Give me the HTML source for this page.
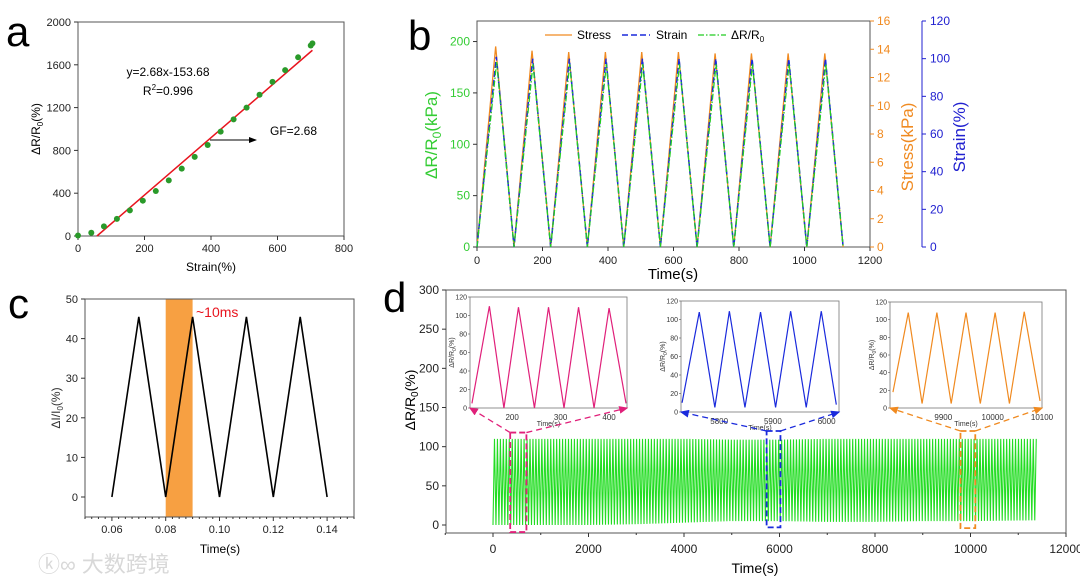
<!DOCTYPE html>
<html><head><meta charset="utf-8"><style>
html,body{margin:0;padding:0;background:#fff;}
svg{display:block;font-family:"Liberation Sans","Noto Sans CJK SC",sans-serif;}
</style></head><body>
<svg id="fig" width="1080" height="580" viewBox="0 0 1080 580" xmlns="http://www.w3.org/2000/svg">
<defs>
<marker id="arrK" markerWidth="8" markerHeight="6" refX="7" refY="3" orient="auto"><path d="M0,0 L8,3 L0,6 z" fill="#000"/></marker>
<marker id="arrM" markerWidth="7" markerHeight="6" refX="6" refY="3" orient="auto-start-reverse"><path d="M0,0 L7,3 L0,6 z" fill="#e0207a"/></marker>
<marker id="arrB" markerWidth="7" markerHeight="6" refX="6" refY="3" orient="auto-start-reverse"><path d="M0,0 L7,3 L0,6 z" fill="#1a2adc"/></marker>
<marker id="arrO" markerWidth="7" markerHeight="6" refX="6" refY="3" orient="auto-start-reverse"><path d="M0,0 L7,3 L0,6 z" fill="#f08a20"/></marker>
</defs>
<text x="6" y="46" font-size="42">a</text>
<text x="408" y="50" font-size="42">b</text>
<text x="8" y="318" font-size="42">c</text>
<text x="383" y="312" font-size="42">d</text>
<text x="38" y="572" font-size="22" fill="#d8d8d8">ⓚ∞ 大数跨境</text>
</svg>
<script>
// ---------- data ----------
const aStrain = [0,40,78,117,156,195,234,273,312,351,390,429,468,507,546,585,623,662,700,705];
const aResp   = [5,30,90,160,240,330,420,520,630,740,850,975,1090,1200,1320,1440,1550,1670,1780,1800];
const aFitX = [57,705];
const aFitY = [0,1736];
const aXTicks = [0,200,400,600,800];
const aYTicks = [0,400,800,1200,1600,2000];

const bStressT = [0,57,113,168,225,280,337,392,448,503,560,615,672,727,784,838,895,950,1007,1062,1118];
const bStressV = [0,14.2,0,13.9,0,13.8,0,13.8,0,13.8,0,13.8,0,13.7,0,13.7,0,13.7,0,13.7,0];
const bStrainT = [0,59,113,170,225,282,337,394,448,505,560,617,672,729,784,840,895,952,1007,1064,1118];
const bStrainV = [0,101,0,100,0,100,0,100,0,100,0,100,0,100,0,100,0,100,0,100,0];
const bResT = [0,60,113,171,225,283,337,395,448,506,560,618,672,730,784,841,895,953,1007,1065,1118];
const bResV = [0,180,0,178,0,178,0,178,0,178,0,178,0,178,0,178,0,178,0,178,0];
const bXTicks = [0,200,400,600,800,1000,1200];
const bYTicks = [0,50,100,150,200];
const bStressTicks = [0,2,4,6,8,10,12,14,16];
const bStrainTicks = [0,20,40,60,80,100,120];

const cT = [0.06,0.07,0.08,0.09,0.10,0.11,0.12,0.13,0.14];
const cV = [0,45.5,0,45.5,0,45.5,0,45.5,0];
const cXTicks = [0.06,0.08,0.10,0.12,0.14];
const cYTicks = [0,10,20,30,40,50];

const dPeriod = 62;
const dEnvT   = [0,1000,2000,3000,4000,5000,6000,7000,8000,9000,10000,11400];
const dEnvMin = [0,0,0,1,3,5,5,4,4,5,5,6];
const dEnvMax = [110,110,110,110,110,109,109,110,110,110,110,110];
const dXTicks = [0,2000,4000,6000,8000,10000,12000];
const dYTicks = [0,50,100,150,200,250,300];

const i1T = [117,153,183,213,246,275,307,337,369,400,435];
const i1V = [5,110,0,109,0,109,0,109,0,108,5];
const i2T = [5731,5763,5792,5819,5848,5877,5905,5933,5962,5990,6018];
const i2V = [10,108,5,109,5,108,5,109,5,109,8];
const i3T = [9798,9829,9857,9887,9916,9946,9975,10005,10034,10064,10096];
const i3V = [18,108,5,108,5,108,5,108,5,109,8];
const i1Ticks = [200,300,400];
const i2Ticks = [5800,5900,6000];
const i3Ticks = [9900,10000,10100];
const iYTicks = [0,20,40,60,80,100,120];

// ---------- helpers ----------
const NS = 'http://www.w3.org/2000/svg';
const svg = document.getElementById('fig');
function mk(tag, a, p){ const e=document.createElementNS(NS,tag); for(const k in a) e.setAttribute(k,a[k]); (p||svg).appendChild(e); return e; }
function tx(x,y,s,a,p){ const e=mk('text',Object.assign({x:x,y:y},a||{}),p); e.textContent=s; return e; }
function lin(d0,d1,r0,r1){ return v=>r0+(v-d0)*(r1-r0)/(d1-d0); }
function poly(xs,ys,X,Y){ return xs.map((v,i)=>X(v).toFixed(2)+','+Y(ys[i]).toFixed(2)).join(' '); }
function interp(ts,vs,t){ for(let i=1;i<ts.length;i++){ if(t<=ts[i]){ const f=(t-ts[i-1])/(ts[i]-ts[i-1]); return vs[i-1]+f*(vs[i]-vs[i-1]); } } return vs[vs.length-1]; }

// ---------- panel a ----------
const aX = lin(0,800,78,344), aY = lin(0,2000,236,22);
const ga = mk('g',{});


const fa = mk('rect',{x:78,y:22,width:266,height:214,fill:'none',stroke:'#555','stroke-width':1},ga);


aXTicks.forEach(v=>{
  const t=mk('line',{x1:aX(v),x2:aX(v),y1:236,y2:240,stroke:'#333'},ga);
  
  
  const l=tx(aX(v),252,String(v),{'font-size':11,'text-anchor':'middle',fill:'#222'},ga);
  
  
});
aYTicks.forEach(v=>{
  const t=mk('line',{x1:74,x2:78,y1:aY(v),y2:aY(v),stroke:'#333'},ga);
  
  
  const l=tx(71,aY(v)+4,String(v),{'font-size':11,'text-anchor':'end',fill:'#222'},ga);
  
  
});
const fit = mk('line',{x1:aX(aFitX[0]),y1:aY(aFitY[0]),x2:aX(aFitX[1]),y2:aY(aFitY[1]),stroke:'#e8141e','stroke-width':1.5},ga);


aStrain.forEach((v,i)=>{
  const c=mk('circle',{cx:aX(v),cy:aY(aResp[i]),r:3,fill:'#2a9a2a'},ga);
  
  
});
const at1=tx(168,76,'y=2.68x-153.68',{'font-size':12,'text-anchor':'middle'},ga);


const at2=tx(168,95,'',{'font-size':12,'text-anchor':'middle'},ga);
at2.innerHTML='R<tspan font-size="8" dy="-5">2</tspan><tspan dy="5">=0.996</tspan>';


const arr=mk('line',{x1:210,y1:140,x2:256,y2:140,stroke:'#000','stroke-width':1,'marker-end':'url(#arrK)'},ga);


const gf=tx(270,135,'GF=2.68',{'font-size':12},ga);


const axt=tx(211,271,'Strain(%)',{'font-size':12,'text-anchor':'middle'},ga);


const ayt=tx(0,0,'',{'font-size':12,'text-anchor':'middle',transform:'translate(40,129) rotate(-90)'},ga);
ayt.innerHTML='ΔR/R<tspan font-size="8" dy="3">0</tspan><tspan dy="-3">(%)</tspan>';



// ---------- panel b ----------
const bX = lin(0,1200,477,870), bY = lin(0,220,247,21), bS = lin(0,16,247,21), bT = lin(0,120,247,21);
const gb = mk('g',{});


const fb=mk('rect',{x:477,y:21,width:393,height:226,fill:'none',stroke:'#555','stroke-width':1},gb);


bXTicks.forEach(v=>{
  const t=mk('line',{x1:bX(v),x2:bX(v),y1:247,y2:251,stroke:'#333'},gb);
  
  
  const l=tx(bX(v),264,String(v),{'font-size':11,'text-anchor':'middle',fill:'#222'},gb);
  
  
});
bYTicks.forEach(v=>{
  const t=mk('line',{x1:473,x2:477,y1:bY(v),y2:bY(v),stroke:'#333'},gb);
  
  
  const l=tx(470,bY(v)+4,String(v),{'font-size':12,'text-anchor':'end',fill:'#33cc33'},gb);
  
  
});
bStressTicks.forEach(v=>{
  const t=mk('line',{x1:870,x2:874,y1:bS(v),y2:bS(v),stroke:'#f08a20'},gb);
  
  
  const l=tx(877,bS(v)+4,String(v),{'font-size':12,fill:'#f08a20'},gb);
  
  
});
const sax=mk('line',{x1:922,x2:922,y1:21,y2:247,stroke:'#2020d0'},gb);


bStrainTicks.forEach(v=>{
  const t=mk('line',{x1:922,x2:926,y1:bT(v),y2:bT(v),stroke:'#2020d0'},gb);
  
  
  const l=tx(930,bT(v)+4,String(v),{'font-size':12,fill:'#2020d0'},gb);
  
  
});
const ls=mk('polyline',{points:poly(bStressT,bStressV,bX,bS),fill:'none',stroke:'#f08a20','stroke-width':1.3},gb);


const lt=mk('polyline',{points:poly(bStrainT,bStrainV,bX,bT),fill:'none',stroke:'#1a2adc','stroke-width':1.5,'stroke-dasharray':'6,3'},gb);


const lr=mk('polyline',{points:poly(bResT,bResV,bX,bY),fill:'none',stroke:'#22cc22','stroke-width':1.3,'stroke-dasharray':'6,2,1.5,2'},gb);


const lg1=mk('line',{x1:545,x2:572,y1:35,y2:35,stroke:'#f08a20','stroke-width':1.3},gb);


const lg1t=tx(577,39,'Stress',{'font-size':12},gb);


const lg2=mk('line',{x1:622,x2:650,y1:35,y2:35,stroke:'#1a2adc','stroke-width':1.5,'stroke-dasharray':'6,3'},gb);


const lg2t=tx(656,39,'Strain',{'font-size':12},gb);


const lg3=mk('line',{x1:698,x2:726,y1:35,y2:35,stroke:'#22cc22','stroke-width':1.3,'stroke-dasharray':'6,2,1.5,2'},gb);


const lg3t=tx(731,39,'',{'font-size':12},gb);
lg3t.innerHTML='ΔR/R<tspan font-size="8" dy="3">0</tspan>';


const bxt=tx(673,279,'Time(s)',{'font-size':15,'text-anchor':'middle'},gb);


const byt=tx(0,0,'',{'font-size':17,'text-anchor':'middle',fill:'#33cc33',transform:'translate(437,135) rotate(-90)'},gb);
byt.innerHTML='ΔR/R<tspan font-size="12" dy="4">0</tspan><tspan dy="-4">(kPa)</tspan>';


const bst=tx(0,0,'Stress(kPa)',{'font-size':17,'text-anchor':'middle',fill:'#f08a20',transform:'translate(913,147) rotate(-90)'},gb);


const btt=tx(0,0,'Strain(%)',{'font-size':17,'text-anchor':'middle',fill:'#2020d0',transform:'translate(965,137) rotate(-90)'},gb);



// ---------- panel c ----------
const cX = lin(0.05,0.15,85,354), cY = lin(0,50,497,299);
const gc = mk('g',{});


const band=mk('rect',{x:cX(0.08),y:299,width:cX(0.09)-cX(0.08),height:218,fill:'#f7a042'},gc);


const fc=mk('rect',{x:85,y:299,width:269,height:218,fill:'none',stroke:'#555','stroke-width':1},gc);


for(let k=0;k<=40;k++){
  const v=0.05+k*0.0025;
  const t=mk('line',{x1:cX(v),x2:cX(v),y1:517,y2:k%8==4?521:519,stroke:'#333'},gc);
  
  
}
cXTicks.forEach(v=>{
  const l=tx(cX(v),533,v.toFixed(2),{'font-size':11,'text-anchor':'middle',fill:'#222'},gc);
  
  
});
cYTicks.forEach(v=>{
  const t=mk('line',{x1:81,x2:85,y1:cY(v),y2:cY(v),stroke:'#333'},gc);
  
  
  const l=tx(78,cY(v)+4,String(v),{'font-size':11,'text-anchor':'end',fill:'#222'},gc);
  
  
});
const cl=mk('polyline',{points:poly(cT,cV,cX,cY),fill:'none',stroke:'#000','stroke-width':1.6},gc);


const cann=tx(196,317,'~10ms',{'font-size':14,fill:'#e8141e'},gc);


const cxt=tx(220,553,'Time(s)',{'font-size':12,'text-anchor':'middle'},gc);


const cyt=tx(0,0,'',{'font-size':12,'text-anchor':'middle',fill:'#333',transform:'translate(60,408) rotate(-90)'},gc);
cyt.innerHTML='ΔI/I<tspan font-size="8" dy="3">0</tspan><tspan dy="-3">(%)</tspan>';



// ---------- panel d ----------
const dX = lin(0,12000,493,1066), dY = lin(0,300,525,290);
const gd = mk('g',{});


const fd=mk('rect',{x:446,y:290,width:620,height:243,fill:'none',stroke:'#555','stroke-width':1},gd);


for(let v=-1000;v<=12000;v+=1000){
  const t=mk('line',{x1:dX(v),x2:dX(v),y1:533,y2:v%2000==0?537:535,stroke:'#333'},gd);
  
  
}
dXTicks.forEach(v=>{
  const l=tx(dX(v),553,String(v),{'font-size':12,'text-anchor':'middle',fill:'#222'},gd);
  
  
});
dYTicks.forEach(v=>{
  const t=mk('line',{x1:442,x2:446,y1:dY(v),y2:dY(v),stroke:'#333'},gd);
  
  
  const l=tx(439,dY(v)+4,String(v),{'font-size':12,'text-anchor':'end',fill:'#222'},gd);
  
  
});
const dPts=[];
const tEnd=dEnvT[dEnvT.length-1];
for(let t=0;t<=tEnd;t+=dPeriod/2){
  const hi=(Math.round(t/(dPeriod/2))%2)==1;
  const v=hi?interp(dEnvT,dEnvMax,t):interp(dEnvT,dEnvMin,t);
  dPts.push(dX(t).toFixed(2)+','+dY(v).toFixed(2));
}
const dl=mk('polyline',{points:dPts.join(' '),fill:'none',stroke:'#22dd22','stroke-width':1.1},gd);


const dxt=tx(755,573,'Time(s)',{'font-size':14,'text-anchor':'middle'},gd);


const dyt=tx(0,0,'',{'font-size':14,'text-anchor':'middle',transform:'translate(415,400) rotate(-90)'},gd);
dyt.innerHTML='ΔR/R<tspan font-size="10" dy="3">0</tspan><tspan dy="-3">(%)</tspan>';



// insets
function inset(name,x0,x1,y0,y1,tMin,tMax,ts,vs,ticks,color,marker,box){
  const g=mk('g',{},gd);
  const IX=lin(tMin,tMax,x0,x1), IY=lin(0,120,y1,y0);
  mk('rect',{x:x0,y:y0,width:x1-x0,height:y1-y0,fill:'#fff',stroke:'#777','stroke-width':0.8},g);
  iYTicks.forEach(v=>{
    mk('line',{x1:x0-2,x2:x0,y1:IY(v),y2:IY(v),stroke:'#555','stroke-width':0.6},g);
    tx(x0-3,IY(v)+2.5,String(v),{'font-size':7,'text-anchor':'end',fill:'#333'},g);
  });
  ticks.forEach(v=>{
    tx(IX(v),y1+12,String(v),{'font-size':8,'text-anchor':'middle',fill:'#333'},g);
  });
  tx((x0+x1)/2,y1+18,'Time(s)',{'font-size':7,'text-anchor':'middle',fill:'#333'},g);
  const yt=tx(0,0,'',{'font-size':7,'text-anchor':'middle',fill:'#333',transform:'translate('+(x0-16)+','+((y0+y1)/2)+') rotate(-90)'},g);
  yt.innerHTML='ΔR/R<tspan font-size="5" dy="2">0</tspan><tspan dy="-2">(%)</tspan>';
  const l=mk('polyline',{points:poly(ts,vs,IX,IY),fill:'none',stroke:color,'stroke-width':1.2},g);
  
  
  const bx0=dX(box[0]), bx1=dX(box[1]);
  mk('rect',{x:bx0,y:dY(box[2]),width:bx1-bx0,height:dY(box[3])-dY(box[2]),fill:'none',stroke:color,'stroke-width':1.8,'stroke-dasharray':'6,3'},g);
  mk('line',{x1:bx0,y1:dY(box[2]),x2:x0,y2:y1,stroke:color,'stroke-width':1.3,'stroke-dasharray':'6,4','marker-end':'url(#'+marker+')'},g);
  mk('line',{x1:bx1,y1:dY(box[2]),x2:x1,y2:y1,stroke:color,'stroke-width':1.3,'stroke-dasharray':'6,4','marker-end':'url(#'+marker+')'},g);
  return g;
}
const in1=inset('inset-early',470,627,297,408,113,437,i1T,i1V,i1Ticks,'#e0207a','arrM',[360,700,118,-9]);


const in2=inset('inset-middle',681,839,301,412,5729,6023,i2T,i2V,i2Ticks,'#1a2adc','arrB',[5730,6020,120,-3]);


const in3=inset('inset-late',890,1042,302,408,9792,10100,i3T,i3V,i3Ticks,'#f08a20','arrO',[9790,10100,120,-4]);


</script>
</body></html>
